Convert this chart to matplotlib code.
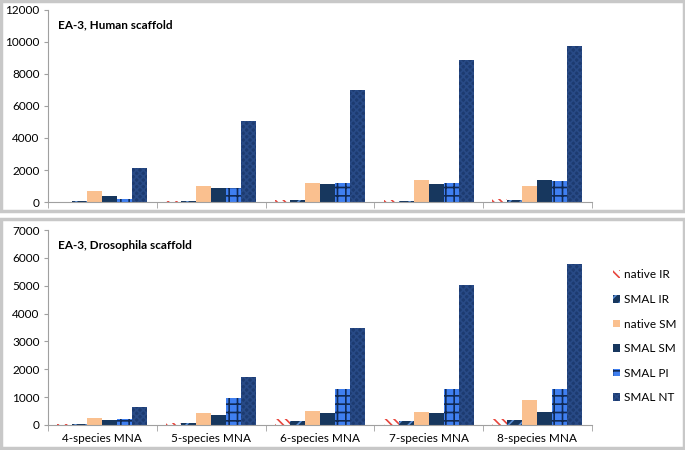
import matplotlib
matplotlib.use("Agg")
import matplotlib.pyplot as plt
from matplotlib.patches import Rectangle
import numpy as np

plt.rcParams['font.family'] = ['Lato', 'DejaVu Sans']
plt.rcParams['hatch.linewidth'] = 1.2

# %% data
groups = ['4-species MNA', '5-species MNA', '6-species MNA', '7-species MNA', '8-species MNA']
series = ['native IR', 'SMAL IR', 'native SM', 'SMAL SM', 'SMAL PI', 'SMAL NT']

human_native_ir = [30, 60, 150, 150, 160]
human_smal_ir = [40, 40, 100, 80, 120]
human_native_sm = [720, 990, 1220, 1380, 1030]
human_smal_sm = [380, 890, 1130, 1130, 1360]
human_smal_pi = [170, 890, 1200, 1220, 1300]
human_smal_nt = [2100, 5050, 6970, 8870, 9750]

dros_native_ir = [20, 80, 200, 200, 200]
dros_smal_ir = [40, 60, 130, 150, 180]
dros_native_sm = [250, 430, 500, 470, 885]
dros_smal_sm = [190, 350, 430, 430, 480]
dros_smal_pi = [200, 980, 1310, 1310, 1310]
dros_smal_nt = [630, 1710, 3470, 5020, 5800]

# %% styles: (face, hatch colour, hatch)
styles = [
    ('white', '#E8453C', '\\\\\\\\'),
    ('#17375E', '#5B8FD6', '///'),
    ('#FAC08F', '#FAC08F', None),
    ('#17375E', '#17375E', None),
    ('#3F7FF0', '#102A55', '++'),
    ('#1D3B70', '#284A86', 'xxxxx'),
]

fig = plt.figure(figsize=(6.85, 4.5), dpi=100)

# panel frames
for y0, h in [(0.531, 0.466), (0.004, 0.509)]:
    fig.patches.append(Rectangle((0.002, y0), 0.996, h, transform=fig.transFigure,
                                 facecolor='white', edgecolor='#C8C8C8', lw=2.5, zorder=-1))

ax1 = fig.add_axes([0.070, 0.551, 0.794, 0.427])
ax2 = fig.add_axes([0.070, 0.0556, 0.794, 0.433])

x = np.arange(len(groups))
bw = 0.138


def draw(ax, data, ymax, step, title):
    for i, (vals, (fc, hc, hatch)) in enumerate(zip(data, styles)):
        pos = x + (i - 2.5) * bw
        ax.bar(pos, vals, width=bw, color=fc, edgecolor=hc, hatch=hatch, lw=0,
               label=series[i])
    ax.set_xlim(-0.5, len(groups) - 0.5)
    ax.set_ylim(0, ymax)
    ax.set_yticks(np.arange(0, ymax + 1, step))
    ax.set_xticks(x)
    ax.set_xticks(np.arange(-0.5, len(groups)), minor=True)
    ax.tick_params(axis='x', which='major', length=0, pad=6)
    ax.tick_params(axis='x', which='minor', length=4, color='#A0A0A0', direction='out')
    ax.tick_params(axis='y', length=3, color='#A0A0A0', labelsize=8.5, pad=3)
    for s in ['top', 'right']:
        ax.spines[s].set_visible(False)
    for s in ['left', 'bottom']:
        ax.spines[s].set_color('#A0A0A0')
    ax.text(0.018, 0.95, title, transform=ax.transAxes, fontsize=8.5, fontweight='bold',
            va='top', ha='left')
    ax.set_facecolor('none')


draw(ax1, [human_native_ir, human_smal_ir, human_native_sm, human_smal_sm,
           human_smal_pi, human_smal_nt], 12000, 2000, 'EA-3, Human scaffold')
ax1.set_xticklabels([])

draw(ax2, [dros_native_ir, dros_smal_ir, dros_native_sm, dros_smal_sm,
           dros_smal_pi, dros_smal_nt], 7000, 1000, 'EA-3, Drosophila scaffold')
ax2.set_xticklabels(groups, fontsize=8.5)

ax2.legend(loc='center left', bbox_to_anchor=(1.02, 0.455), frameon=False, fontsize=8.5,
           handlelength=0.6, handleheight=0.6, handletextpad=0.3, labelspacing=1.15)

fig.savefig('out.png', dpi=100)
